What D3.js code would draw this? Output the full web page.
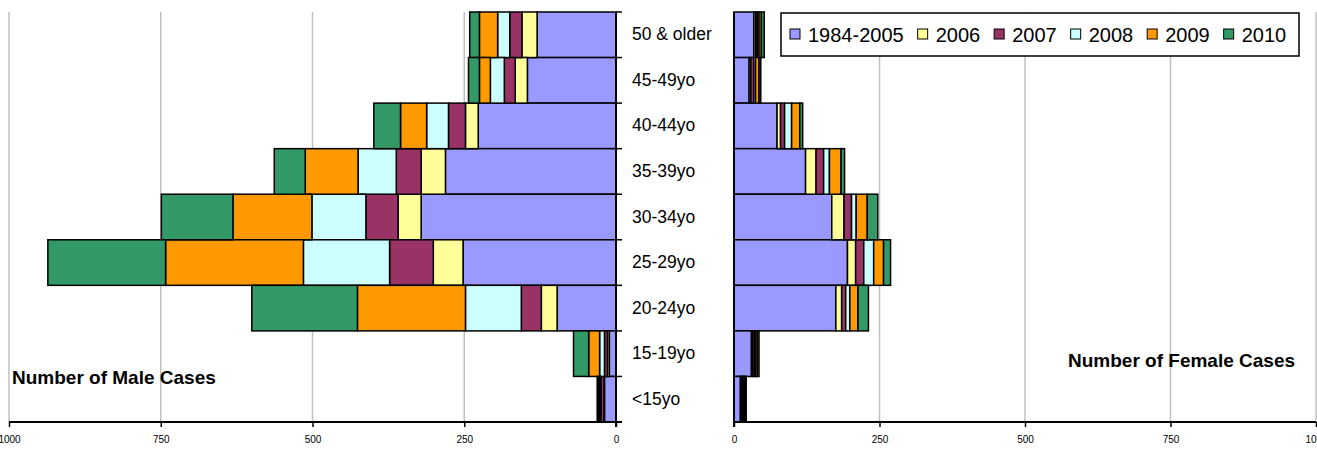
<!DOCTYPE html>
<html>
<head>
<meta charset="utf-8">
<script src="https://cdn.jsdelivr.net/npm/d3@7"></script>
<style>
  html, body { margin: 0; padding: 0; background: #fff; }
  svg { display: block; font-family: "Liberation Sans", Arial, sans-serif; }
</style>
</head>
<body>
<svg id="chart" width="1317" height="449"></svg>
<script>
// ---- data ----
const categories = ["50 & older", "45-49yo", "40-44yo", "35-39yo", "30-34yo", "25-29yo", "20-24yo", "15-19yo", "<15yo"];
const years = ["1984-2005", "2006", "2007", "2008", "2009", "2010"];
const colors = ["#9999FF", "#FFFF99", "#993366", "#CCFFFF", "#FF9900", "#339966"];

const male1984_2005 = [130, 146, 227, 281, 321, 252, 97, 11, 19];
const male2006      = [25, 20, 21, 40, 38, 49, 26, 3, 1];
const male2007      = [20, 18, 28, 41, 53, 72, 33, 5, 5];
const male2008      = [20, 23, 36, 63, 89, 142, 92, 8, 2];
const male2009      = [30, 18, 43, 87, 130, 227, 178, 18, 2];
const male2010      = [16, 18, 44, 51, 118, 194, 174, 25, 2];

const female1984_2005 = [34, 26, 74, 123, 168, 195, 175, 30, 11];
const female2006      = [3, 3, 6, 18, 21, 14, 10, 2, 2];
const female2007      = [3, 5, 7, 13, 13, 14, 7, 3, 2];
const female2008      = [3, 3, 12, 10, 8, 17, 7, 2, 2];
const female2009      = [4, 6, 14, 20, 19, 17, 14, 3, 2];
const female2010      = [5, 3, 5, 6, 18, 12, 18, 3, 2];

const tickValues = [0, 250, 500, 750, 1000];
const maleTitle = "Number of Male Cases";
const femaleTitle = "Number of Female Cases";

(function () {
// ---- build tables ----
const maleSeries = [male1984_2005, male2006, male2007, male2008, male2009, male2010];
const femaleSeries = [female1984_2005, female2006, female2007, female2008, female2009, female2010];
function table(series) {
  return categories.map((c, i) => {
    const row = { cat: c };
    years.forEach((yr, j) => row[yr] = series[j][i]);
    return row;
  });
}
const stack = d3.stack().keys(years);
const maleStack = stack(table(maleSeries));
const femaleStack = stack(table(femaleSeries));

const svg = d3.select("#chart");
const yTop = 12, yBottom = 422;
const y = d3.scaleBand().domain(categories).range([yTop, yBottom]).padding(0);
const xL = d3.scaleLinear().domain([0, 1000]).range([616, 9]);
const xR = d3.scaleLinear().domain([0, 1000]).range([734, 1316]);

// gridlines
function grid(x) {
  svg.append("g").selectAll("line").data(tickValues.filter(v => v > 0)).join("line")
    .attr("x1", d => x(d)).attr("x2", d => x(d))
    .attr("y1", yTop).attr("y2", yBottom)
    .attr("stroke", "#c0c0c0").attr("stroke-width", 1.5);
}
grid(xL); grid(xR);

// bars
function bars(stk, x) {
  svg.append("g").selectAll("g").data(stk).join("g")
    .attr("fill", (d, i) => colors[i])
    .selectAll("rect").data(d => d).join("rect")
    .attr("x", d => Math.min(x(d[0]), x(d[1])))
    .attr("width", d => Math.abs(x(d[1]) - x(d[0])))
    .attr("y", d => y(d.data.cat))
    .attr("height", y.bandwidth())
    .attr("stroke", "#000").attr("stroke-width", 1.5);
}
bars(maleStack, xL);
bars(femaleStack, xR);

// x axes
function xAxis(x) {
  const g = svg.append("g").attr("transform", `translate(0,${yBottom})`)
    .call(d3.axisBottom(x).tickValues(tickValues).tickSize(5).tickPadding(9).tickFormat(d3.format("d")));
  g.select(".domain").remove();
  g.selectAll(".tick line").attr("stroke", "#000").attr("stroke-width", 1.5);
  g.selectAll(".tick text").attr("font-size", 10).attr("font-family", "Liberation Sans, Arial, sans-serif").attr("fill", "#000");
  return g;
}
xAxis(xL); xAxis(xR);
svg.append("line").attr("x1", xL(1000)).attr("x2", xL(0) + 6).attr("y1", yBottom).attr("y2", yBottom)
  .attr("stroke", "#000").attr("stroke-width", 2);
svg.append("line").attr("x1", xR(0)).attr("x2", xR(1000)).attr("y1", yBottom).attr("y2", yBottom)
  .attr("stroke", "#000").attr("stroke-width", 2);

// y axes
const yAxL = svg.append("g").attr("transform", `translate(${xL(0)},0)`)
  .call(d3.axisRight(y).tickSize(0).tickPadding(16));
yAxL.select(".domain").remove();
yAxL.selectAll(".tick text").attr("font-size", 17.5).attr("font-family", "Liberation Sans, Arial, sans-serif").attr("fill", "#000");
svg.append("line").attr("x1", xL(0)).attr("x2", xL(0)).attr("y1", yTop).attr("y2", yBottom + 5)
  .attr("stroke", "#000").attr("stroke-width", 2);
svg.append("g").selectAll("line").data(d3.range(categories.length + 1)).join("line")
  .attr("x1", xL(0)).attr("x2", xL(0) + 6)
  .attr("y1", i => yTop + i * y.step()).attr("y2", i => yTop + i * y.step())
  .attr("stroke", "#000").attr("stroke-width", 1.5);
svg.append("line").attr("x1", xR(0)).attr("x2", xR(0)).attr("y1", yTop).attr("y2", yBottom + 5)
  .attr("stroke", "#000").attr("stroke-width", 2);

// panel titles
svg.append("text").attr("x", 12).attr("y", 384).attr("font-size", 19).attr("font-weight", "bold").text(maleTitle);
svg.append("text").attr("x", 1068).attr("y", 367).attr("font-size", 19).attr("font-weight", "bold").text(femaleTitle);

// legend
const lg = svg.append("g");
lg.append("rect").attr("x", 781).attr("y", 13).attr("width", 518).attr("height", 43)
  .attr("fill", "#fff").attr("stroke", "#000").attr("stroke-width", 1.5);
let lx = 790;
years.forEach((yr, i) => {
  lg.append("rect").attr("x", lx).attr("y", 29).attr("width", 10).attr("height", 10)
    .attr("fill", colors[i]).attr("stroke", "#000").attr("stroke-width", 1);
  const t = lg.append("text").attr("x", lx + 18).attr("y", 41.5).attr("font-size", 20).text(yr);
  lx += 18 + t.node().getComputedTextLength() + 14;
});
})();
</script>
</body>
</html>
